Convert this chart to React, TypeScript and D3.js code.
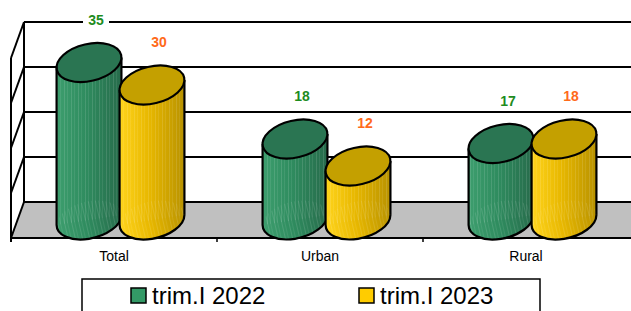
import React from "react";
import * as d3 from "d3";

const categories = ["Total", "Urban", "Rural"];
const seriesNames = ["trim.I 2022", "trim.I 2023"];
const values2022 = [35, 18, 17];
const values2023 = [30, 12, 18];
const yTicks = [0, 10, 20, 30, 40];

const W = 631;
const H = 311;
const DX = 13; // depth offset x (front -> back)
const DY = -36; // depth offset y

const colors = {
  green: { body: ["#3d9e6e", "#2f8c5f", "#276b4b"], top: "#2a7552", legend: "#339966", label: "#1e8c1e" },
  yellow: { body: ["#ffd41c", "#e8b800", "#b89200"], top: "#c4a000", legend: "#ffcc00", label: "#ff6a1a" },
};

function ellipsePoint(cx: number, cy: number, a: number, b: number, th: number, t: number) {
  return [
    cx + a * Math.cos(t) * Math.cos(th) - b * Math.sin(t) * Math.sin(th),
    cy + a * Math.cos(t) * Math.sin(th) + b * Math.sin(t) * Math.cos(th),
  ];
}

function Cylinder({ cx, yTop, yBot, fillId, top }: { cx: number; yTop: number; yBot: number; fillId: string; top: string }) {
  const a = 33;
  const b = 18.5;
  const deg = -13;
  const th = (deg * Math.PI) / 180;
  const t0 = Math.atan2(-b * Math.sin(th), a * Math.cos(th));
  const pR = ellipsePoint(0, 0, a, b, th, t0);
  const pL = ellipsePoint(0, 0, a, b, th, t0 + Math.PI);
  const [rx, ry] = pR[0] > pL[0] ? pR : pL;
  const [lx, ly] = pR[0] > pL[0] ? pL : pR;
  const body = `M${cx + lx},${yTop + ly} L${cx + rx},${yTop + ry} L${cx + rx},${yBot + ry} L${cx + lx},${yBot + ly} Z`;
  const bottomArc = `M${cx + lx},${yBot + ly} A${a},${b} ${deg} 0 0 ${cx + rx},${yBot + ry}`;
  return (
    <g>
      <ellipse cx={cx} cy={yBot} rx={a} ry={b} transform={`rotate(${deg},${cx},${yBot})`} fill={`url(#${fillId})`} />
      <path d={body} fill={`url(#${fillId})`} />
      <ellipse cx={cx} cy={yBot} rx={a} ry={b} transform={`rotate(${deg},${cx},${yBot})`} fill="url(#stripes)" />
      <path d={body} fill="url(#stripes)" />
      <path d={bottomArc} fill="none" stroke="#000" strokeWidth={2.2} />
      <line x1={cx + lx} y1={yTop + ly} x2={cx + lx} y2={yBot + ly} stroke="#000" strokeWidth={2.2} />
      <line x1={cx + rx} y1={yTop + ry} x2={cx + rx} y2={yBot + ry} stroke="#000" strokeWidth={2.2} />
      <ellipse cx={cx} cy={yTop} rx={a} ry={b} transform={`rotate(${deg},${cx},${yTop})`} fill={top} stroke="#000" strokeWidth={2.2} />
    </g>
  );
}

export default function App() {
  const x0 = d3.scaleBand<string>().domain(categories).range([11, 629]).paddingInner(0).paddingOuter(0);
  const yBack = d3.scaleLinear().domain([0, 40]).range([202, 22]);
  const yMid = (v: number) => yBack(v) - DY / 2;
  const xMid = (x: number) => x + DX / 2;
  const x1 = d3.scaleBand<string>().domain(seriesNames).range([-63, 63]);

  const floorFrontY = yBack(0) - DY;
  const leftBackX = 11 + DX;

  const series = [
    { name: seriesNames[0], values: values2022, c: colors.green, id: "gG" },
    { name: seriesNames[1], values: values2023, c: colors.yellow, id: "gY" },
  ];
  const cxOf = (cat: string, name: string) => xMid(x0(cat)! + x0.bandwidth() / 2) + x1(name)! + x1.bandwidth() / 2;

  return (
    <svg width={W} height={H} style={{ position: "absolute", left: 0, top: 0, fontFamily: "Liberation Sans, Arial, sans-serif" }}>
      <defs>
        {series.map((s) => (
          <linearGradient key={s.id} id={s.id} x1="0" x2="1" y1="0" y2="0">
            <stop offset="0" stopColor={s.c.body[0]} />
            <stop offset="0.45" stopColor={s.c.body[1]} />
            <stop offset="1" stopColor={s.c.body[2]} />
          </linearGradient>
        ))}
        <pattern id="stripes" patternUnits="userSpaceOnUse" width={7} height={10}>
          <rect x={1} y={0} width={1} height={10} fill="#fff" opacity={0.12} />
          <rect x={4} y={0} width={1} height={10} fill="#fff" opacity={0.08} />
        </pattern>
      </defs>
      <rect width={W} height={H} fill="#fff" />
      {/* floor */}
      <path
        d={`M${leftBackX},${yBack(0)} L${W + 20},${yBack(0)} L${W + 20},${floorFrontY} L11,${floorFrontY} Z`}
        fill="#c0c0c0"
      />
      {/* back wall gridlines */}
      {yTicks.map((t) => (
        <g key={t}>
          <line x1={leftBackX} x2={W} y1={yBack(t)} y2={yBack(t)} stroke="#000" strokeWidth={2} />
          <line x1={leftBackX} x2={11} y1={yBack(t)} y2={yBack(t) - DY} stroke="#000" strokeWidth={2} />
        </g>
      ))}
      <line x1={leftBackX} x2={leftBackX} y1={yBack(40)} y2={yBack(0)} stroke="#000" strokeWidth={2} />
      <line x1={11} x2={11} y1={yBack(40) - DY} y2={floorFrontY + 4} stroke="#000" strokeWidth={2} />
      <line x1={11} x2={W} y1={floorFrontY} y2={floorFrontY} stroke="#000" strokeWidth={2} />
      {categories.slice(1).map((c) => (
        <line key={c} x1={x0(c)!} x2={x0(c)!} y1={floorFrontY} y2={floorFrontY + 4} stroke="#000" strokeWidth={1.5} />
      ))}
      {/* cylinders */}
      {categories.map((cat, i) =>
        series.map((s) => (
          <Cylinder key={cat + s.name} cx={cxOf(cat, s.name)} yTop={yMid(s.values[i])} yBot={yMid(0)} fillId={s.id} top={s.c.top} />
        ))
      )}
      {/* value labels */}
      {categories.map((cat, i) =>
        series.map((s) => {
          const cx = cxOf(cat, s.name) + 7;
          const y = yMid(s.values[i]) - 43;
          const txt = String(s.values[i]);
          return (
            <g key={"l" + cat + s.name}>
              <rect x={cx - 13} y={y - 9} width={26} height={18} fill="#fff" />
              <text x={cx} y={y + 5} textAnchor="middle" fontSize={14} fontWeight="bold" fill={s.c.label}>
                {txt}
              </text>
            </g>
          );
        })
      )}
      {/* category labels */}
      {categories.map((c) => (
        <text key={c} x={x0(c)! + x0.bandwidth() / 2} y={261} textAnchor="middle" fontSize={14} fill="#000">
          {c}
        </text>
      ))}
      {/* legend */}
      <rect x={82} y={279} width={458} height={50} fill="#fff" stroke="#000" strokeWidth={1.5} />
      {series.map((s, i) => {
        const lx = i === 0 ? 131 : 359;
        return (
          <g key={s.name}>
            <rect x={lx} y={288} width={15} height={15} fill={s.c.legend} stroke="#000" strokeWidth={1.5} />
            <text x={lx + 21} y={304} fontSize={24} fill="#000">
              {s.name}
            </text>
          </g>
        );
      })}
    </svg>
  );
}
